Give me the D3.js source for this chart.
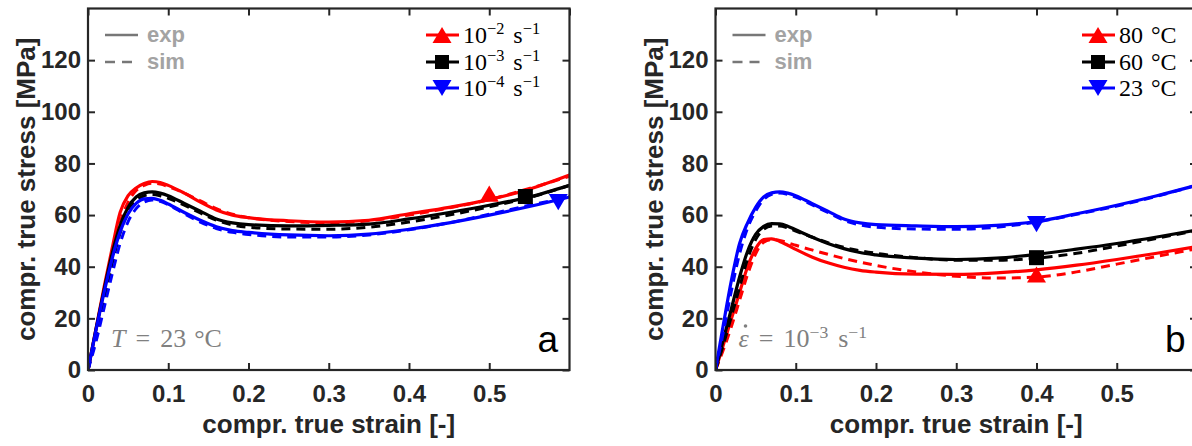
<!DOCTYPE html>
<html>
<head>
<meta charset="utf-8">
<script src="https://cdn.jsdelivr.net/npm/d3@7"></script>
<style>
  body { margin: 0; background: #fff; }
  svg { display: block; }
</style>
</head>
<body>
<div id="chart"></div>
<script>
// ---------- DATA ----------
const strain = [0, 0.01, 0.02, 0.03, 0.04, 0.05, 0.06, 0.07, 0.08, 0.09, 0.1, 0.12, 0.14, 0.16, 0.18, 0.2, 0.25, 0.3, 0.35, 0.4, 0.45, 0.5, 0.55, 0.6];

// panel a: T = 23 °C, different strain rates
const rate2Exp = [0, 16, 32, 47, 61, 67.5, 70.5, 72.2, 73, 72.6, 71.5, 68.5, 65, 62, 60, 59, 57.8, 57.3, 58, 60.5, 63, 66, 70, 75.5];
const rate2Sim = [0, 14, 29, 44, 57, 65, 69.5, 71.5, 72.3, 72, 71, 68.5, 65.5, 62.5, 60.3, 59, 57.5, 57, 57.8, 60, 62.8, 66, 70.3, 75];
const rate3Exp = [0, 16, 31, 45, 56, 63, 67, 68.6, 69, 68.5, 67.5, 64.5, 61.5, 58.5, 57, 56.3, 55.8, 56, 56.5, 58.5, 61, 63.8, 67, 71.5];
const rate3Sim = [0, 13, 27, 41, 53, 61, 65.5, 67.5, 68, 67.5, 66.5, 63.8, 60.8, 58, 56.2, 55.3, 54.6, 54.5, 55.3, 57.3, 60, 63.2, 66.8, 71.5];
const rate4Exp = [0, 15.5, 30, 43, 53.5, 60.5, 64.5, 66.3, 66.5, 65.7, 64.3, 61, 58, 55.5, 54, 53.3, 52.3, 52, 52.6, 54.5, 57, 60, 63.3, 67];
const rate4Sim = [0, 11, 24, 37, 49, 57.5, 62.5, 65, 65.8, 65.3, 64, 60.5, 57.3, 54.8, 53.3, 52.5, 51.5, 51.5, 52.3, 54.3, 57, 60.3, 63.8, 67];

// panel b: rate 10^-3 s^-1, different temperatures
const temp80Exp = [0, 10, 20, 30, 40, 47, 50.5, 50.8, 49.8, 48.3, 46.7, 43.8, 41.5, 39.8, 38.6, 37.9, 37.1, 37, 37.6, 38.8, 40.6, 42.8, 45.2, 47.8];
const temp80Sim = [0, 8, 17, 27, 37, 45, 49.5, 50.5, 50.2, 49.3, 48.3, 46.5, 44.8, 43.2, 41.8, 40.5, 38, 36.3, 35.6, 36, 38, 41, 44, 47];
const temp60Exp = [0, 12, 24, 36, 46, 52.5, 55.6, 56.7, 56.6, 55.7, 54.3, 51.5, 49, 47, 45.5, 44.6, 43.3, 42.8, 43.3, 44.8, 46.8, 49, 51.5, 54.2];
const temp60Sim = [0, 10, 21, 32, 43, 50.5, 54.5, 55.8, 55.8, 55, 53.8, 51.5, 49.3, 47.5, 46.2, 45.2, 43.5, 42.5, 42.5, 43.3, 45.2, 48, 51, 54];
const temp23Exp = [0, 18, 35, 49, 57, 63, 67, 68.6, 69, 68.5, 67.5, 64.5, 61.5, 58.5, 57, 56.3, 55.8, 55.5, 56, 57.5, 60.5, 63.8, 67.5, 71.6];
const temp23Sim = [0, 15, 31, 45, 55, 61.5, 66, 68, 68.5, 68, 67, 64, 61, 58, 56.2, 55.3, 54.6, 54.5, 55.3, 57.3, 60.3, 63.5, 67.3, 71.6];

// marker positions [strain, stress]
const markersA = [[0.5, 68.3], [0.545, 67.2], [0.586, 65]];
const markersB = [[0.4, 37], [0.4, 43.5], [0.4, 56.5]];

const legendA = ["10", "10", "10"];
const legendAExp = ["−2", "−3", "−4"];
const legendB = ["80", "60", "23"];
const colors = ["#ff0000", "#000000", "#0000ff"];
const symbols = ["up", "square", "down"];
const xTicks = [0, 0.1, 0.2, 0.3, 0.4, 0.5];
const yTicks = [0, 20, 40, 60, 80, 100, 120];

// ---------- LAYOUT ----------
const W = 1192, H = 446;
const plotW = 481.5, plotTop = 8.5, plotBottom = 370;
const axisColor = "#262626";
const sansFont = "'Liberation Sans', Arial, sans-serif";
const serifFont = "'Liberation Serif', 'DejaVu Serif', serif";

const svg = d3.select("#chart").append("svg").attr("width", W).attr("height", H);

function symbolPath(type, s) {
	if (type === "square") return `M${-s / 2},${-s / 2}h${s}v${s}h${-s}z`;
	const h = s * 0.95;
	if (type === "up") return `M0,${-h / 2}L${s / 2 + 1},${h / 2}L${-s / 2 - 1},${h / 2}z`;
	return `M0,${h / 2}L${s / 2 + 1},${-h / 2}L${-s / 2 - 1},${-h / 2}z`;
}

// math-like text: parts = [[text, isSuperscript, dx, italic]]
function mathText(t, parts) {
	let raised = false;
	parts.forEach((p) => {
		const span = t.append("tspan").attr("dx", p[2] || 0).text(p[0]);
		if (p[1] && !raised) { span.attr("dy", -9).attr("font-size", "0.68em"); raised = true; }
		else if (p[1]) span.attr("font-size", "0.68em");
		else if (raised) { span.attr("dy", 9); raised = false; }
		if (p[3]) span.attr("font-style", "italic");
	});
}

function drawPanel(cfg) {
	const x = d3.scaleLinear().domain([0, 0.6]).range([cfg.left, cfg.left + plotW]);
	const y = d3.scaleLinear().domain([0, 140]).range([plotBottom, plotTop]);
	const g = svg.append("g");

	g.append("clipPath").attr("id", "clip" + cfg.id)
		.append("rect").attr("x", cfg.left).attr("y", plotTop).attr("width", plotW).attr("height", plotBottom - plotTop);

	// curves
	const line = d3.line()
		.x((d) => x(d[0]))
		.y((d) => y(d[1]))
		.curve(d3.curveMonotoneX);
	const curves = g.append("g").attr("clip-path", `url(#clip${cfg.id})`);
	cfg.series.forEach((s, i) => {
		const simPts = strain.map((e, k) => [e, s.sim[k]]);
		const expPts = strain.map((e, k) => [e, s.exp[k]]);
		curves.append("path").attr("d", line(simPts))
			.attr("fill", "none").attr("stroke", colors[i]).attr("stroke-width", 3)
			.attr("stroke-dasharray", "9,6");
		curves.append("path").attr("d", line(expPts))
			.attr("fill", "none").attr("stroke", colors[i]).attr("stroke-width", 3.2);
	});
	cfg.markers.forEach((m, i) => {
		g.append("path").attr("d", symbolPath(symbols[i], symbols[i] === "square" ? 15 : 17))
			.attr("transform", `translate(${x(m[0])},${y(m[1])})`)
			.attr("fill", colors[i]);
	});

	// axes with inward ticks on all sides
	const tl = 7;
	const styleAxis = (a) => {
		a.select(".domain").remove();
		a.selectAll("line").attr("stroke", axisColor).attr("stroke-width", 2);
		a.selectAll("text").attr("font-family", sansFont).attr("font-weight", "bold")
			.attr("font-size", 24).attr("fill", axisColor);
	};
	g.append("g").attr("transform", `translate(0,${plotBottom})`)
		.call(d3.axisBottom(x).tickValues(xTicks).tickSize(-tl).tickPadding(15).tickFormat(d3.format("")))
		.call(styleAxis);
	g.append("g").attr("transform", `translate(0,${plotTop})`)
		.call(d3.axisTop(x).tickValues(xTicks.concat([0.6])).tickSize(-tl).tickFormat(""))
		.call(styleAxis);
	g.append("g").attr("transform", `translate(${cfg.left},0)`)
		.call(d3.axisLeft(y).tickValues(yTicks).tickSize(-tl).tickPadding(7))
		.call(styleAxis);
	g.append("g").attr("transform", `translate(${cfg.left + plotW},0)`)
		.call(d3.axisRight(y).tickValues(yTicks).tickSize(-tl).tickFormat(""))
		.call(styleAxis);

	g.append("rect").attr("x", cfg.left).attr("y", plotTop).attr("width", plotW).attr("height", plotBottom - plotTop)
		.attr("fill", "none").attr("stroke", axisColor).attr("stroke-width", 2.2);

	// axis labels
	g.append("text").attr("x", cfg.left + plotW / 2).attr("y", 433)
		.attr("text-anchor", "middle").attr("font-family", sansFont).attr("font-weight", "bold")
		.attr("font-size", 26).attr("fill", axisColor).text("compr. true strain [-]");
	g.append("text").attr("transform", `translate(${cfg.left - 53},${(plotTop + plotBottom) / 2}) rotate(-90)`)
		.attr("text-anchor", "middle").attr("font-family", sansFont).attr("font-weight", "bold")
		.attr("font-size", 26).attr("fill", axisColor).text("compr. true stress [MPa]");

	// exp / sim legend
	const lg = g.append("g");
	[["exp", null, 35], ["sim", "10,7", 62]].forEach((r) => {
		lg.append("line").attr("x1", cfg.left + 17).attr("x2", cfg.left + 50).attr("y1", r[2]).attr("y2", r[2])
			.attr("stroke", "#777").attr("stroke-width", 2.5).attr("stroke-dasharray", r[1]);
		lg.append("text").attr("x", cfg.left + 59).attr("y", r[2] + 7)
			.attr("font-family", sansFont).attr("font-weight", "bold").attr("font-size", 22)
			.attr("fill", "#a3a3a3").text(r[0]);
	});

	// series legend
	const rows = [35, 62, 88];
	rows.forEach((ry, i) => {
		lg.append("line").attr("x1", cfg.legX).attr("x2", cfg.legX + 33).attr("y1", ry).attr("y2", ry)
			.attr("stroke", colors[i]).attr("stroke-width", 3);
		lg.append("path").attr("d", symbolPath(symbols[i], symbols[i] === "square" ? 14 : 17))
			.attr("transform", `translate(${cfg.legX + 16},${ry})`).attr("fill", colors[i]);
		const t = lg.append("text").attr("x", cfg.legX + 37).attr("y", ry + 8)
			.attr("font-family", serifFont).attr("font-size", 24).attr("fill", "#000");
		cfg.legendText(t, i);
	});

	// annotation and panel letter
	const ann = g.append("text").attr("x", cfg.left + 23).attr("y", 347)
		.attr("font-family", serifFont).attr("font-size", 26).attr("fill", "#808080");
	cfg.annotation(ann, g);
	g.append("text").attr("x", cfg.left + plotW - 32).attr("y", 352)
		.attr("font-family", sansFont).attr("font-size", 37).attr("fill", "#000").text(cfg.letter);
}

drawPanel({
	id: "a", left: 88, legX: 426, letter: "a",
	series: [{ exp: rate2Exp, sim: rate2Sim }, { exp: rate3Exp, sim: rate3Sim }, { exp: rate4Exp, sim: rate4Sim }],
	markers: markersA,
	legendText: (t, i) => {
		mathText(t, [[legendA[i]], [legendAExp[i], true], ["s", false, 9], ["−1", true]]);
	},
	annotation: (t) => {
		mathText(t, [["T", false, 0, true], ["=", false, 10], ["23", false, 10], ["°C", false, 8]]);
	},
});

drawPanel({
	id: "b", left: 715.5, legX: 1082, letter: "b",
	series: [{ exp: temp80Exp, sim: temp80Sim }, { exp: temp60Exp, sim: temp60Sim }, { exp: temp23Exp, sim: temp23Sim }],
	markers: markersB,
	legendText: (t, i) => {
		mathText(t, [[legendB[i]], ["°C", false, 8]]);
	},
	annotation: (t, g) => {
		mathText(t, [["ε", false, 0, true], ["=", false, 10], ["10", false, 10], ["−3", true], ["s", false, 10], ["−1", true]]);
		g.append("circle").attr("cx", 715.5 + 30).attr("cy", 326).attr("r", 1.8).attr("fill", "#808080");
	},
});
</script>
</body>
</html>
